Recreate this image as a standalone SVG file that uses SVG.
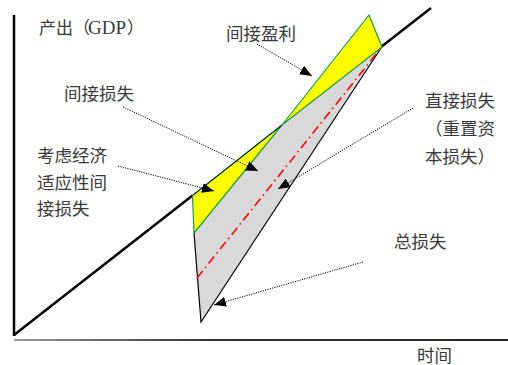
<svg xmlns="http://www.w3.org/2000/svg" width="508" height="365" viewBox="0 0 508 365">
<style>
.lbl{font-family:"Liberation Serif","Noto Sans CJK SC",serif;font-size:17.5px;fill:#3a3a3a}
.ann{fill:none;stroke:#000;stroke-width:1;stroke-dasharray:1.2 1.2;marker-end:url(#ah)}
.yel{fill:#ffff00;stroke:#1a9a4a;stroke-width:1.2;stroke-linejoin:round}
</style>
<defs>
<marker id="ah" viewBox="0 0 12 10" refX="12" refY="5" markerWidth="12" markerHeight="10" markerUnits="userSpaceOnUse" orient="auto">
<path d="M0,0 L12,5 L0,10 Z" fill="#000"/>
</marker>
<linearGradient id="xg" x1="0" y1="0" x2="1" y2="0">
<stop offset="0" stop-color="#999"/>
<stop offset="0.4" stop-color="#333"/>
<stop offset="1" stop-color="#222"/>
</linearGradient>
</defs>
<g id="axes">
<line x1="14" y1="15" x2="14" y2="336" stroke="#000" stroke-width="2.5"/>
<rect x="14" y="339" width="494" height="2" fill="url(#xg)"/>
</g>
<g id="trend">
<line x1="14" y1="335" x2="192.5" y2="195.5" stroke="#000" stroke-width="2.5"/>
<line x1="381" y1="47" x2="431" y2="8" stroke="#000" stroke-width="2.5"/>
</g>
<g id="total-loss">
<polygon points="194,233 282,125 381,47 201,322" fill="#d9d9d9" stroke="none"/>
<polyline points="194,233 201,322 383,45" fill="none" stroke="#000" stroke-width="1.2"/>
</g>
<g id="lower-yellow">
<polygon class="yel" points="192.5,195.5 282,125 194,233"/>
<line x1="192.5" y1="195.5" x2="282" y2="125" stroke="#000" stroke-width="1"/>
</g>
<g id="upper-yellow">
<polygon class="yel" points="282,125 369,15 382,47"/>
</g>
<g id="direct-line">
<line x1="197" y1="278" x2="381" y2="48" stroke="#ff0000" stroke-width="1.6" stroke-dasharray="9 4 1.5 4"/>
</g>
<g id="connectors">
<line class="ann" x1="257" y1="44" x2="312" y2="76"/>
<line class="ann" x1="123" y1="107" x2="258" y2="171"/>
<line class="ann" x1="118" y1="166" x2="214" y2="191"/>
<line class="ann" x1="413" y1="108" x2="278" y2="189"/>
<line class="ann" x1="363" y1="262" x2="214" y2="305"/>
</g>
<g id="label-gdp"><text class="lbl" x="39" y="34" style="font-size:17px">产出（<tspan x="88" style="font-size:19px">GDP</tspan><tspan x="127">）</tspan></text></g>
<g id="label-profit"><text class="lbl" x="226" y="40">间接盈利</text></g>
<g id="label-indirect"><text class="lbl" x="64" y="100">间接损失</text></g>
<g id="label-adapt"><text class="lbl" x="37" y="162">考虑经济</text><text class="lbl" x="37" y="189">适应性间</text><text class="lbl" x="37" y="215">接损失</text></g>
<g id="label-direct"><text class="lbl" x="425" y="107">直接损失</text><text class="lbl" x="425" y="135">（重置资</text><text class="lbl" x="425" y="163">本损失）</text></g>
<g id="label-total"><text class="lbl" x="394" y="248">总损失</text></g>
<g id="label-time"><text class="lbl" x="417" y="362">时间</text></g>
</svg>
